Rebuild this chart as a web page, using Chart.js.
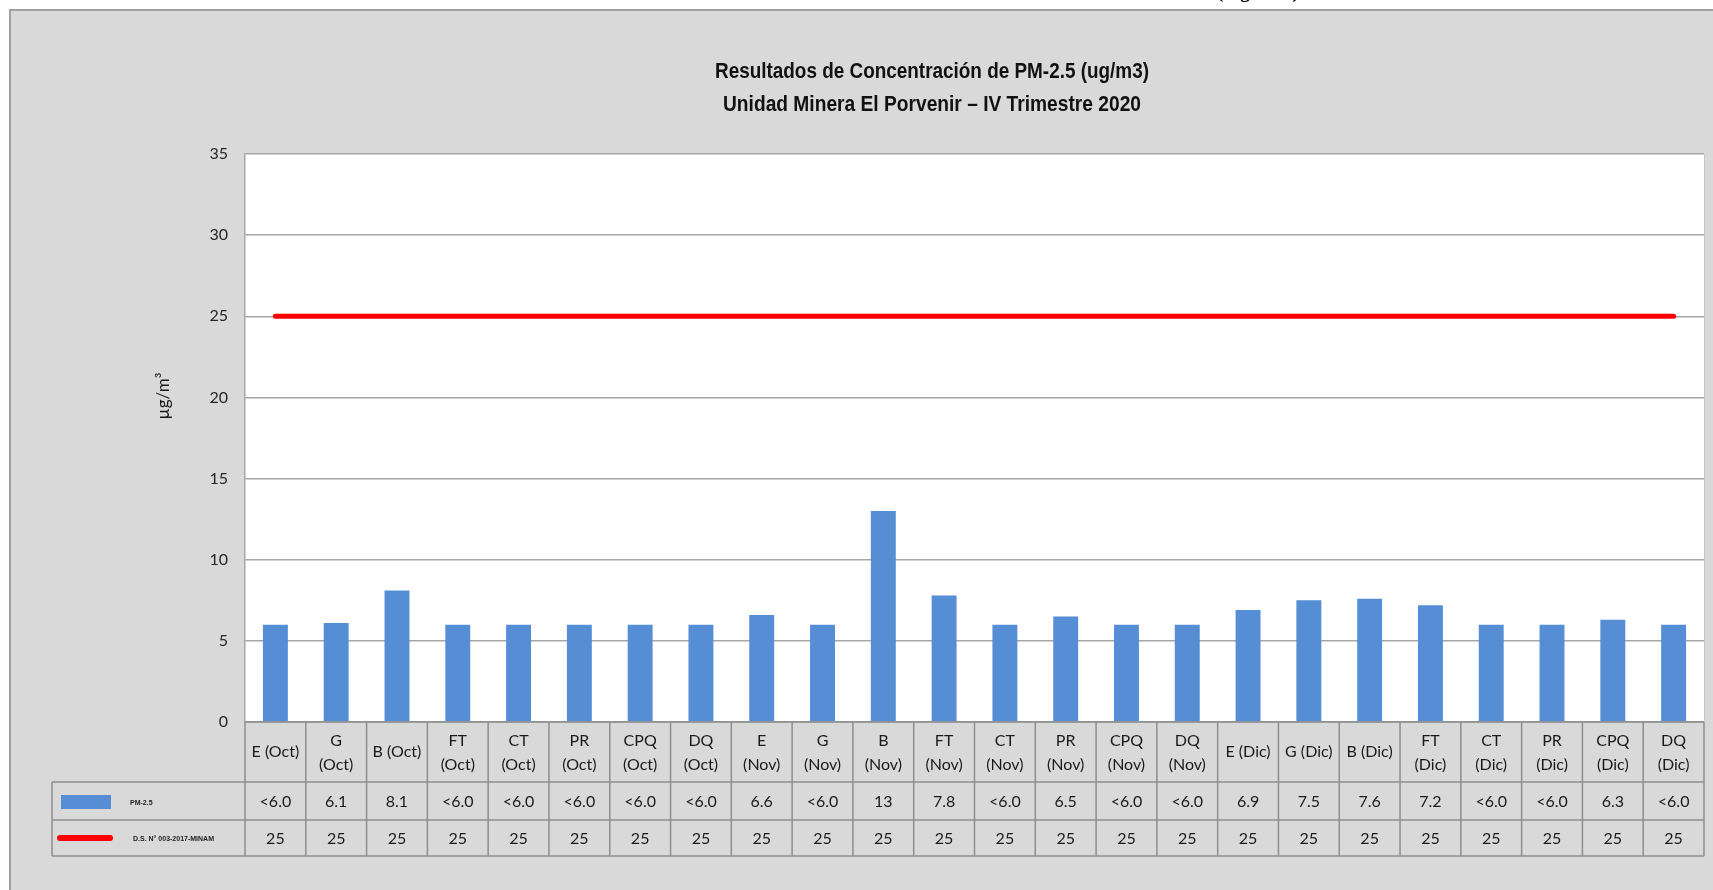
<!DOCTYPE html>
<html>
<head>
<meta charset="utf-8">
<script src="https://cdn.jsdelivr.net/npm/chart.js@4.4.1/dist/chart.umd.min.js"></script>
<style>
  html, body { margin: 0; padding: 0; background: #ffffff; }
  #wrap { width: 1713px; height: 890px; position: relative; }
</style>
</head>
<body>
<div id="wrap"><canvas id="myChart"></canvas></div>
<script>
// datos
var etiquetas = [
  ['E (Oct)'], ['G', '(Oct)'], ['B (Oct)'], ['FT', '(Oct)'], ['CT', '(Oct)'], ['PR', '(Oct)'],
  ['CPQ', '(Oct)'], ['DQ', '(Oct)'], ['E', '(Nov)'], ['G', '(Nov)'], ['B', '(Nov)'], ['FT', '(Nov)'],
  ['CT', '(Nov)'], ['PR', '(Nov)'], ['CPQ', '(Nov)'], ['DQ', '(Nov)'], ['E (Dic)'], ['G (Dic)'],
  ['B (Dic)'], ['FT', '(Dic)'], ['CT', '(Dic)'], ['PR', '(Dic)'], ['CPQ', '(Dic)'], ['DQ', '(Dic)']
];
var pm25 = [6.0, 6.1, 8.1, 6.0, 6.0, 6.0, 6.0, 6.0, 6.6, 6.0, 13, 7.8, 6.0, 6.5, 6.0, 6.0, 6.9, 7.5, 7.6, 7.2, 6.0, 6.0, 6.3, 6.0];
var pm25Texto = ['<6.0', '6.1', '8.1', '<6.0', '<6.0', '<6.0', '<6.0', '<6.0', '6.6', '<6.0', '13', '7.8', '<6.0', '6.5', '<6.0', '<6.0', '6.9', '7.5', '7.6', '7.2', '<6.0', '<6.0', '6.3', '<6.0'];
var eca = [25, 25, 25, 25, 25, 25, 25, 25, 25, 25, 25, 25, 25, 25, 25, 25, 25, 25, 25, 25, 25, 25, 25, 25];
var ticksY = [0, 5, 10, 15, 20, 25, 30, 35];

var titulo = ['Resultados de Concentración de PM-2.5 (ug/m3)', 'Unidad Minera El Porvenir \u2013 IV Trimestre 2020'];
var serie1 = 'PM-2.5';
var serie2 = 'D.S. N\u00b0 003-2017-MINAM';

var gris = '#d9d9d9';
var lineaTabla = '#8e8e8e';
var fuenteTabla = 'Lato, "Open Sans", sans-serif';

// fondo gris + area blanca
var fondo = {
  id: 'fondo',
  beforeDraw: function(chart) {
    var ctx = chart.ctx;
    var a = chart.chartArea;
    ctx.save();
    ctx.fillStyle = '#ffffff';
    ctx.fillRect(0, 0, chart.width, chart.height);
    // texto cortado arriba
    ctx.fillStyle = '#000';
    ctx.font = 'bold 19px "Liberation Serif", serif';
    ctx.textAlign = 'left';
    ctx.textBaseline = 'alphabetic';
    ctx.fillText('(Figura 3)', 1217, -2);
    ctx.fillStyle = gris;
    ctx.fillRect(10, 9, chart.width - 10, chart.height - 9);
    ctx.strokeStyle = '#a0a0a0';
    ctx.lineWidth = 2;
    ctx.beginPath();
    ctx.moveTo(10, chart.height);
    ctx.lineTo(10, 10);
    ctx.lineTo(chart.width, 10);
    ctx.stroke();
    ctx.fillStyle = '#ffffff';
    ctx.fillRect(a.left, a.top, a.right - a.left, a.bottom - a.top);
    ctx.strokeStyle = '#c8c8c8';
    ctx.lineWidth = 1;
    ctx.beginPath();
    ctx.moveTo(a.right + 0.5, a.top);
    ctx.lineTo(a.right + 0.5, a.bottom);
    ctx.stroke();

    // titulo (letra condensada)
    var anchos = [434, 418];
    var ys = [72, 105];
    ctx.fillStyle = '#111111';
    ctx.textAlign = 'center';
    ctx.textBaseline = 'middle';
    ctx.font = 'bold 22px "Liberation Sans", Arial, sans-serif';
    for (var k = 0; k < titulo.length; k++) {
      var w = ctx.measureText(titulo[k]).width;
      ctx.save();
      ctx.translate(932, ys[k]);
      ctx.scale(anchos[k] / w, 1);
      ctx.fillText(titulo[k], 0, 0);
      ctx.restore();
    }
    ctx.restore();
  }
};

// tabla de datos debajo del grafico
var tabla = {
  id: 'tabla',
  afterDraw: function(chart) {
    var ctx = chart.ctx;
    var a = chart.chartArea;
    var xs = chart.scales.x;
    var n = etiquetas.length;
    var colW = (a.right - a.left) / n;
    var r0 = a.bottom, r1 = 782, r2 = 820, r3 = 856;
    var izq = 52;

    ctx.save();
    ctx.strokeStyle = lineaTabla;
    ctx.lineWidth = 1.5;
    ctx.beginPath();
    ctx.moveTo(a.left, r0); ctx.lineTo(a.right, r0);
    ctx.moveTo(izq, r1); ctx.lineTo(a.right, r1);
    ctx.moveTo(izq, r2); ctx.lineTo(a.right, r2);
    ctx.moveTo(izq, r3); ctx.lineTo(a.right, r3);
    ctx.moveTo(izq, r1); ctx.lineTo(izq, r3);
    for (var i = 0; i <= n; i++) {
      var xb = a.left + i * colW;
      ctx.moveTo(xb, r0); ctx.lineTo(xb, r3);
    }
    ctx.stroke();

    ctx.fillStyle = '#1a1a1a';
    ctx.textAlign = 'center';
    ctx.textBaseline = 'middle';
    ctx.font = '16px ' + fuenteTabla;
    for (var j = 0; j < n; j++) {
      var cx = xs.getPixelForValue(j);
      var lab = etiquetas[j];
      if (lab.length === 1) {
        ctx.fillText(lab[0], cx, (r0 + r1) / 2);
      } else {
        ctx.fillText(lab[0], cx, r0 + 19);
        ctx.fillText(lab[1], cx, r0 + 43);
      }
      ctx.fillText(pm25Texto[j], cx, (r1 + r2) / 2 + 1);
      ctx.fillText(String(eca[j]), cx, (r2 + r3) / 2 + 1);
    }

    // leyenda
    ctx.fillStyle = '#558ed5';
    ctx.fillRect(61, 795, 50, 14);
    ctx.strokeStyle = '#ff0000';
    ctx.lineWidth = 6;
    ctx.lineCap = 'round';
    ctx.beginPath();
    ctx.moveTo(60, 838); ctx.lineTo(110, 838);
    ctx.stroke();
    ctx.fillStyle = '#222';
    ctx.textAlign = 'left';
    ctx.font = 'bold 7px "Liberation Sans", sans-serif';
    ctx.fillText(serie1, 130, 803);
    ctx.fillText(serie2, 133, 839);

    // titulo eje y
    ctx.translate(164, 396);
    ctx.rotate(-Math.PI / 2);
    ctx.textAlign = 'center';
    ctx.fillStyle = '#1a1a1a';
    ctx.font = '17px ' + fuenteTabla;
    ctx.fillText('\u00b5g/m\u00b3', 0, 0);
    ctx.restore();
  }
};

var ctx = document.getElementById('myChart');
var chart = new Chart(ctx, {
  type: 'bar',
  data: {
    labels: etiquetas,
    datasets: [{
      type: 'line',
      label: serie2,
      data: eca,
      borderColor: '#ff0000',
      backgroundColor: '#ff0000',
      borderWidth: 5,
      borderCapStyle: 'round',
      pointRadius: 0,
      fill: false,
      order: 0
    }, {
      type: 'bar',
      label: serie1,
      data: pm25,
      backgroundColor: '#558ed5',
      barPercentage: 0.41,
      categoryPercentage: 1,
      order: 1
    }]
  },
  options: {
    responsive: true,
    maintainAspectRatio: false,
    animation: false,
    layout: { padding: { left: 160, right: 9, top: 154, bottom: 0 } },
    plugins: {
      legend: { display: false },
      tooltip: { enabled: false },
      title: { display: false }
    },
    scales: {
      x: {
        ticks: { display: false },
        grid: { display: false },
        border: { display: false },
        afterFit: function(scale) { scale.height = 168; }
      },
      y: {
        min: 0,
        max: 35,
        afterBuildTicks: function(scale) {
          scale.ticks = ticksY.map(function(v) { return { value: v }; });
        },
        ticks: {
          padding: 17,
          color: '#262626',
          font: { family: fuenteTabla, size: 16 }
        },
        grid: { color: '#a6a6a6', lineWidth: 1.5, drawTicks: false },
        border: { display: true, color: '#a6a6a6', width: 1.5 },
        afterFit: function(scale) { scale.width = 85; }
      }
    }
  },
  plugins: [fondo, tabla]
});
</script>
</body>
</html>
